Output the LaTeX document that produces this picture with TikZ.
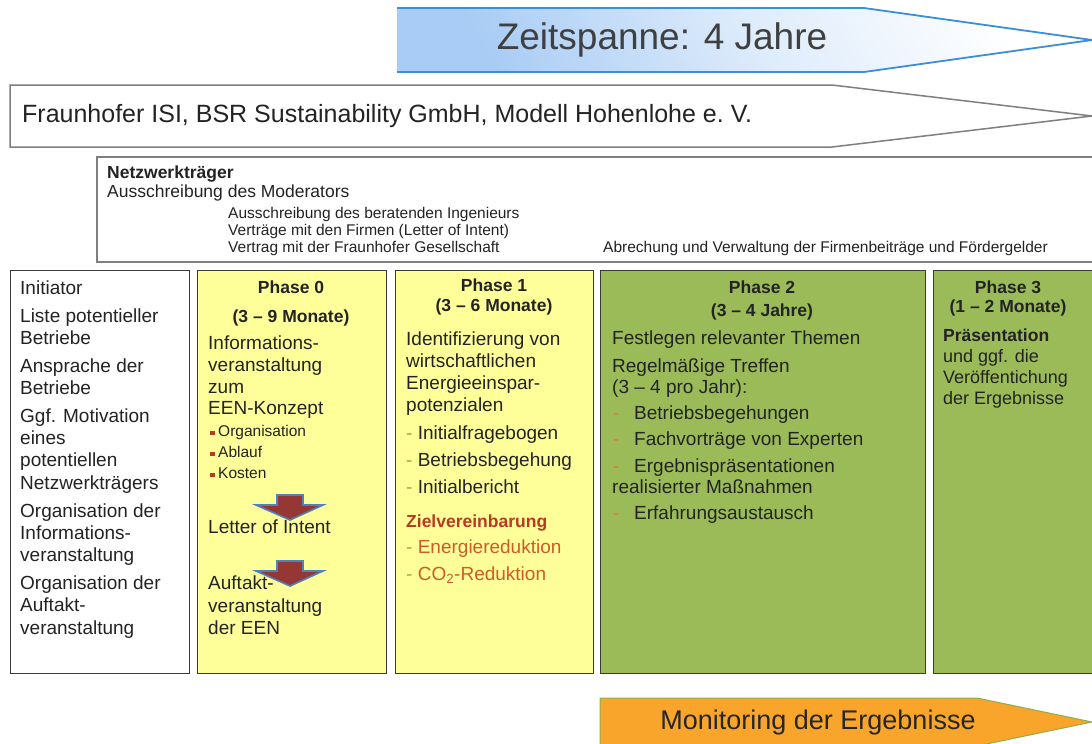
\documentclass[tikz,border=0pt]{standalone}
\usepackage{fontspec}
\setmainfont{Liberation Sans}
\definecolor{phyellow}{HTML}{FFFF99}
\definecolor{phgreen}{HTML}{9BBB59}
\definecolor{boxline}{HTML}{3A3A3A}
\definecolor{frameline}{HTML}{7F7F7F}
\definecolor{zeitblue}{HTML}{A8CCF5}
\definecolor{zeitline}{HTML}{3A8FDD}
\definecolor{monorange}{HTML}{F9A52B}
\definecolor{monline}{HTML}{8DB04A}
\definecolor{arrred}{HTML}{953735}
\definecolor{arrblue}{HTML}{4F81BD}
\definecolor{zielred}{HTML}{B93A22}
\definecolor{itemred}{HTML}{CF5A2C}
\definecolor{dashgreen}{HTML}{8DB04A}
\definecolor{dashorange}{HTML}{E07B39}
\definecolor{txt}{HTML}{232323}
\begin{document}
\begin{tikzpicture}[x=1pt,y=-1pt,
  col/.style={draw=boxline, line width=1pt},
  body/.style={anchor=base west, inner sep=0pt, text=txt, font=\fontsize{19}{21}\selectfont},
  bodysmall/.style={anchor=base west, inner sep=0pt, text=txt, font=\fontsize{18}{20}\selectfont},
  head/.style={anchor=base, inner sep=0pt, text=txt, font=\bfseries\fontsize{17.5}{20}\selectfont},
  bullet/.style={anchor=base west, inner sep=0pt, text=txt, font=\fontsize{15.5}{17}\selectfont},
  netz/.style={anchor=base west, inner sep=0pt, text=txt, font=\fontsize{17.5}{19}\selectfont},
  netzsmall/.style={anchor=base west, inner sep=0pt, text=txt, font=\fontsize{15.5}{17}\selectfont},
  downarrow/.style={fill=arrred, draw=arrblue, line width=1.6pt, line join=miter}
]
\clip (0,0) rectangle (1092,744);
\fill[white] (0,0) rectangle (1092,744);

% time span arrow
\shade[top color=white, bottom color=zeitblue, middle color=zeitblue!40, shading angle=-60]
  (397,8) -- (864,8) -- (1092,40) -- (864,72) -- (397,72) -- cycle;
\draw[zeitline!45, line width=0.8pt] (397,8) -- (397,72);
\draw[zeitline, line width=1.8pt, line join=miter]
  (397,8) -- (864,8) -- (1092,40) -- (864,72) -- (397,72);
\node[anchor=center, inner sep=0pt, text=black!75, font=\fontsize{37}{40}\selectfont] (zeit) at (662,40) {Zeitspanne: 4 Jahre};

% partners arrow
\draw[frameline, line width=1.5pt, fill=white, line join=miter]
  (10,85) -- (832,85) -- (1092,116) -- (832,147) -- (10,147) -- cycle;
\node[anchor=west, inner sep=0pt, text=txt, font=\fontsize{25}{28}\selectfont] (partner) at (22,116) {Fraunhofer ISI, BSR Sustainability GmbH, Modell Hohenlohe e.~V.};

% network carrier box
\draw[frameline, line width=1.5pt] (97,157) rectangle (1110,262);
\node[netz, font=\bfseries\fontsize{17.5}{19}\selectfont] (n1) at (107,178) {Netzwerkträger};
\node[netz] (n2) at (107,197) {Ausschreibung des Moderators};
\node[netzsmall] (n3) at (228,218) {Ausschreibung des beratenden Ingenieurs};
\node[netzsmall] (n4) at (228,235) {Verträge mit den Firmen (Letter of Intent)};
\node[netzsmall] (n5) at (228,252) {Vertrag mit der Fraunhofer Gesellschaft};
\node[netzsmall] (n6) at (603,252) {Abrechung und Verwaltung der Firmenbeiträge und Fördergelder};

% columns
\draw[col, fill=white] (10,270) rectangle (189,673);
\draw[col, fill=phyellow] (197,270) rectangle (386,673);
\draw[col, fill=phyellow] (395,270) rectangle (593,673);
\draw[col, fill=phgreen] (600,270) rectangle (925,673);
\draw[col, fill=phgreen] (933,270) rectangle (1110,673);

% initiator column
\node[body] (i1) at (20,294) {Initiator};
\node[body] (i2) at (20,322) {Liste potentieller};
\node[body] (i3) at (20,344) {Betriebe};
\node[body] (i4) at (20,372) {Ansprache der};
\node[body] (i5) at (20,394) {Betriebe};
\node[body] (i6) at (20,422) {Ggf. Motivation};
\node[body] (i7) at (20,444) {eines};
\node[body] (i8) at (20,466) {potentiellen};
\node[body] (i9) at (20,489) {Netzwerkträgers};
\node[body] (i10) at (20,517) {Organisation der};
\node[body] (i11) at (20,539) {Informations-};
\node[body] (i12) at (20,561) {veranstaltung};
\node[body] (i13) at (20,589) {Organisation der};
\node[body] (i14) at (20,611) {Auftakt-};
\node[body] (i15) at (20,634) {veranstaltung};

% phase 0
\node[head] (p0h) at (291,293.5) {Phase 0};
\node[head] (p0d) at (291,322) {(3 – 9 Monate)};
\node[body] (p0a) at (208,349) {Informations-};
\node[body] (p0b) at (208,371) {veranstaltung};
\node[body] (p0c) at (208,393) {zum};
\node[body] (p0e) at (208,414) {EEN-Konzept};
\node[bullet] (p0b1) at (210,436.5) {\textcolor{zielred}{\rule[1.5pt]{4.5pt}{4.5pt}}\hspace{3.5pt}Organisation};
\node[bullet] (p0b2) at (210,457.5) {\textcolor{zielred}{\rule[1.5pt]{4.5pt}{4.5pt}}\hspace{3.5pt}Ablauf};
\node[bullet] (p0b3) at (210,478.5) {\textcolor{zielred}{\rule[1.5pt]{4.5pt}{4.5pt}}\hspace{3.5pt}Kosten};
\draw[downarrow] (277,495) -- (303,495) -- (303,505) -- (323,505) -- (290,520) -- (256,505) -- (277,505) -- cycle;
\node[body] (p0f) at (208,533) {Letter of Intent};
\draw[downarrow] (277,561) -- (303,561) -- (303,571) -- (323,571) -- (290,586) -- (256,571) -- (277,571) -- cycle;
\node[body] (p0g) at (208,589) {Auftakt-};
\node[body] (p0i) at (208,612) {veranstaltung};
\node[body] (p0j) at (208,634) {der EEN};

% phase 1
\node[head] (p1h) at (494,291) {Phase 1};
\node[head] (p1d) at (494,311) {(3 – 6 Monate)};
\node[body] (p1a) at (406,345) {Identifizierung von};
\node[body] (p1b) at (406,367) {wirtschaftlichen};
\node[body] (p1c) at (406,389) {Energieeinspar-};
\node[body] (p1e) at (406,411) {potenzialen};
\node[body] (p1f) at (406,439) {\textcolor{dashgreen}{-} Initialfragebogen};
\node[body] (p1g) at (406,466) {\textcolor{dashgreen}{-} Betriebsbegehung};
\node[body] (p1i) at (406,493) {\textcolor{dashgreen}{-} Initialbericht};
\node[body, text=zielred, font=\bfseries\fontsize{17.5}{20}\selectfont] (p1z) at (406,527) {Zielvereinbarung};
\node[body, text=itemred] (p1k) at (406,553) {\textcolor{dashgreen}{-} Energiereduktion};
\node[body, text=itemred] (p1l) at (406,580) {\textcolor{dashgreen}{-} CO\textsubscript{2}-Reduktion};

% phase 2
\node[head] (p2h) at (762,293) {Phase 2};
\node[head] (p2d) at (762,316) {(3 – 4 Jahre)};
\node[body] (p2a) at (612,344) {Festlegen relevanter Themen};
\node[body] (p2b) at (612,372) {Regelmäßige Treffen};
\node[body] (p2c) at (612,393) {(3 – 4 pro Jahr):};
\node[body] (p2e) at (613,419) {\makebox[21pt][l]{\textcolor{dashorange}{-}}Betriebsbegehungen};
\node[body] (p2f) at (613,445) {\makebox[21pt][l]{\textcolor{dashorange}{-}}Fachvorträge von Experten};
\node[body] (p2g) at (613,472) {\makebox[21pt][l]{\textcolor{dashorange}{-}}Ergebnispräsentationen};
\node[body] (p2i) at (612,493) {realisierter Maßnahmen};
\node[body] (p2j) at (613,519) {\makebox[21pt][l]{\textcolor{dashorange}{-}}Erfahrungsaustausch};

% phase 3
\node[head] (p3h) at (1008,293) {Phase 3};
\node[head] (p3d) at (1008,312) {(1 – 2 Monate)};
\node[bodysmall, font=\bfseries\fontsize{17.5}{20}\selectfont] (p3a) at (943,341) {Präsentation};
\node[bodysmall] (p3b) at (943,362) {und ggf. die};
\node[bodysmall] (p3c) at (943,383) {Veröffentichung};
\node[bodysmall] (p3e) at (943,404) {der Ergebnisse};

% monitoring arrow
\draw[fill=monorange, draw=monline, line width=1pt, line join=miter]
  (600,698) -- (977,698) -- (1092,722) -- (977,746) -- (600,746) -- cycle;
\node[anchor=center, inner sep=0pt, text=black!85, font=\fontsize{27}{30}\selectfont] (moni) at (818,723) {Monitoring der Ergebnisse};
\end{tikzpicture}
\end{document}
